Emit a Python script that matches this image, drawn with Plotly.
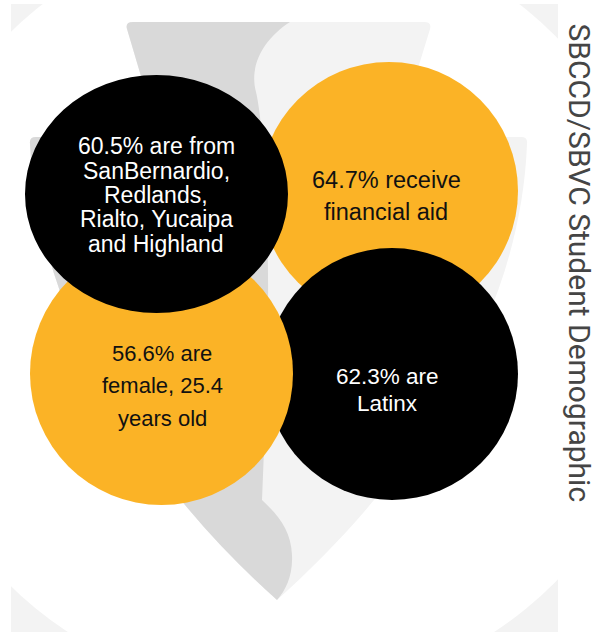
import plotly.graph_objects as go

# ---- data ----
pct_values = [60.5, 64.7, 56.6, 62.3]
bubble_lines = [
    ["60.5% are from", "SanBernardio,", "Redlands,", "Rialto, Yucaipa", "and Highland"],
    ["64.7% receive", "financial aid"],
    ["56.6% are", "female, 25.4", "years old"],
    ["62.3% are", "Latinx"],
]
title_text = "SBCCD/SBVC Student Demographic"

# ---- layout / style (pixel coordinates) ----
W, H = 602, 632
centers = [(156.5, 194), (389, 191), (161.5, 373.5), (392, 374)]
radii_x = [131.5, 129, 131.5, 126]
radii_y = [119, 129, 131.5, 126]
text_centers = [(156, 195), (386, 196), (162, 385.5), (387, 389.5)]
line_gaps = [24.3, 32, 32.5, 27]
font_sizes = [23, 23.5, 22, 22.5]
fills = ["#000000", "#FBB326", "#FBB326", "#000000"]
text_colors = ["#FFFFFF", "#111111", "#111111", "#FFFFFF"]
draw_order = [1, 3, 2, 0]

fig = go.Figure()
fig.add_trace(go.Scatter(x=[0, W], y=[0, H], mode="markers",
                         marker=dict(opacity=0), hoverinfo="skip", showlegend=False))

shapes = []
shapes.append(dict(type="rect", x0=11, x1=558, y0=4, y1=H + 5,
                   fillcolor="#F3F3F3", line=dict(width=0), layer="below"))
shapes.append(dict(type="circle", x0=281 - 387, x1=281 + 387, y0=309 - 387, y1=309 + 387,
                   fillcolor="#FFFFFF", line=dict(width=0), layer="below"))
logo_path = ("M 133 22 L 424 22 Q 432 22 430 29 L 397 137 L 521 137 Q 528 137 527 144 "
             "C 520 330, 400 490, 277 600 C 154 490, 40 330, 30 144 Q 29 137 36 137 "
             "L 159 137 L 127 29 Q 125 22 133 22 Z")
shapes.append(dict(type="path", path=logo_path, fillcolor="#F3F3F3",
                   line=dict(width=0), layer="below"))
dark_path = ("M 133 22 L 290 22 C 268 36, 248 62, 256 92 C 264 125, 272 250, 266 400 "
             "L 262 500 C 278 515, 291 530, 292 555 C 293 575, 286 590, 277 600 "
             "C 154 490, 40 330, 30 144 Q 29 137 36 137 L 159 137 L 127 29 Q 125 22 133 22 Z")
shapes.append(dict(type="path", path=dark_path, fillcolor="#D9D9D9",
                   line=dict(width=0), layer="below"))

for i in draw_order:
    cx, cy = centers[i]
    shapes.append(dict(type="circle", x0=cx - radii_x[i], x1=cx + radii_x[i],
                       y0=cy - radii_y[i], y1=cy + radii_y[i],
                       fillcolor=fills[i], line=dict(width=0), layer="above"))

annotations = []
for i, lines in enumerate(bubble_lines):
    tx, ty = text_centers[i]
    n = len(lines)
    for k, ln in enumerate(lines):
        y = ty + (k - (n - 1) / 2) * line_gaps[i]
        annotations.append(dict(x=tx, y=y, text=ln, showarrow=False,
                                xanchor="center", yanchor="middle",
                                font=dict(family="Liberation Sans, Arial", size=font_sizes[i],
                                          color=text_colors[i])))

annotations.append(dict(x=579, y=21, text=title_text, textangle=90, showarrow=False,
                        xanchor="center", yanchor="top", xref="x", yref="y",
                        font=dict(family="Roboto", size=30, color="#454545")))

fig.update_layout(
    width=W, height=H, margin=dict(l=0, r=0, t=0, b=0),
    paper_bgcolor="#FFFFFF", plot_bgcolor="#FFFFFF",
    xaxis=dict(range=[0, W], visible=False, fixedrange=True),
    yaxis=dict(range=[H, 0], visible=False, fixedrange=True),
    shapes=shapes, annotations=annotations, showlegend=False,
)

fig.write_html("out.html", config={"displayModeBar": False},
               post_script="document.body.style.margin='0px';document.body.style.overflow='hidden';")
